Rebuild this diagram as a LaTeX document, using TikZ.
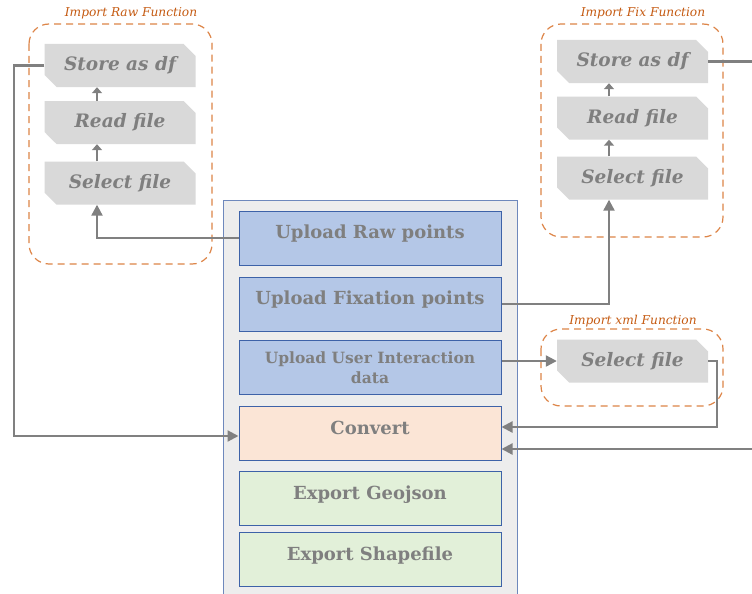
\documentclass[tikz,border=0pt]{standalone}
\usepackage{fontspec}
\setmainfont{DejaVu Serif}
\usetikzlibrary{shapes.misc,arrows.meta}
\definecolor{txtgrey}{HTML}{7F7F7F}
\definecolor{linegrey}{HTML}{808080}
\definecolor{filefill}{HTML}{D9D9D9}
\definecolor{upfill}{HTML}{B4C7E7}
\definecolor{upedge}{HTML}{3D62A8}
\definecolor{convfill}{HTML}{FBE5D6}
\definecolor{expfill}{HTML}{E2F0D9}
\definecolor{panelfill}{HTML}{EDEDED}
\definecolor{paneledge}{HTML}{6E88BC}
\definecolor{groupedge}{HTML}{DD8548}
\definecolor{grouptxt}{HTML}{C55A11}
\tikzset{
  panel/.style={fill=panelfill, draw=paneledge, line width=1pt},
  block/.style={draw=upedge, line width=1pt, minimum width=262pt, minimum height=54pt,
    inner sep=0pt, text=txtgrey, font=\bfseries\fontsize{18}{20}\selectfont,
    text height=12pt, text depth=11pt},
  upbox/.style={block, fill=upfill},
  convbox/.style={block, fill=convfill},
  expbox/.style={block, fill=expfill},
  filebox/.style={chamfered rectangle, chamfered rectangle corners={north east, south west},
    chamfered rectangle xsep=6pt, chamfered rectangle ysep=6pt,
    fill=filefill, draw=none, minimum width=151pt, minimum height=43pt, inner sep=0pt,
    text=txtgrey, font=\bfseries\itshape\fontsize{18.5}{20}\selectfont},
  group/.style={draw=groupedge, dash pattern=on 7pt off 5pt, line width=1.2pt,
    rounded corners=20pt},
  grouplabel/.style={text=grouptxt, font=\itshape\fontsize{12.2}{14}\selectfont, inner sep=0pt},
  link/.style={draw=linegrey, line width=2.2pt, -{Triangle[length=11pt,width=11pt]}},
  shortlink/.style={draw=linegrey, line width=2.2pt, -{Triangle[length=6pt,width=10pt]}},
}
\begin{document}
\begin{tikzpicture}[x=1pt,y=-1pt]
\useasboundingbox (0,0) rectangle (752,594);
\fill[white] (0,0) rectangle (752,594);

% central panel with the processing steps
\draw[panel] (223,200) rectangle (517,610);
\node[upbox] (raw) at (370,238) {Upload Raw points};
\node[upbox] (fix) at (370,304) {Upload Fixation points};
\node[upbox, align=center, text height=, text depth=, font=\bfseries\fontsize{15.5}{20}\selectfont]
  (user) at (370,367.5) {Upload User Interaction\\data};
\node[convbox] (conv) at (370,433.5) {Convert};
\node[expbox] (geo) at (370,498.5) {Export Geojson};
\node[expbox] (shp) at (370,559.5) {Export Shapefile};

% raw import group
\draw[group] (29,24) rectangle (212,264);
\node[grouplabel] (rawlbl) at (131,13) {Import Raw Function};
\node[filebox] (rstore) at (120,65.5) {Store as df};
\node[filebox] (rread) at (120,122.5) {Read file};
\node[filebox] (rsel) at (120,183) {Select file};

% fixation import group
\draw[group] (541,24) rectangle (723,237);
\node[grouplabel] (fixlbl) at (643,13) {Import Fix Function};
\node[filebox] (fstore) at (632.5,61.5) {Store as df};
\node[filebox] (fread) at (632.5,118) {Read file};
\node[filebox] (fsel) at (632.5,178) {Select file};

% xml import group
\draw[group] (541,329) rectangle (723,406);
\node[grouplabel] (xmllbl) at (633,321) {Import xml Function};
\node[filebox] (xsel) at (632.5,361) {Select file};

% connectors
\draw[shortlink] ([xshift=-23pt]rstore.south |- rread.north) -- ([xshift=-23pt]rstore.south);
\draw[shortlink] ([xshift=-23pt]rread.south |- rsel.north) -- ([xshift=-23pt]rread.south);
\draw[shortlink] ([xshift=-23.5pt]fstore.south |- fread.north) -- ([xshift=-23.5pt]fstore.south);
\draw[shortlink] ([xshift=-23.5pt]fread.south |- fsel.north) -- ([xshift=-23.5pt]fread.south);
\draw[link] (raw.west) -| ([xshift=-23pt]rsel.south);
\draw[link] (rstore.west) -- (14,65.5) |- ([yshift=-2.5pt]conv.west);
\draw[link] (fix.east) -| ([xshift=-23.5pt]fsel.south);
\draw[link] (user.east |- xsel.west) -- (xsel.west);
\draw[link] (xsel.east) -- (717,361) |- ([yshift=6.5pt]conv.east);
\draw[link] (fstore.east) -- (770,61.5) |- ([yshift=-15.5pt]conv.east);
\end{tikzpicture}
\end{document}
